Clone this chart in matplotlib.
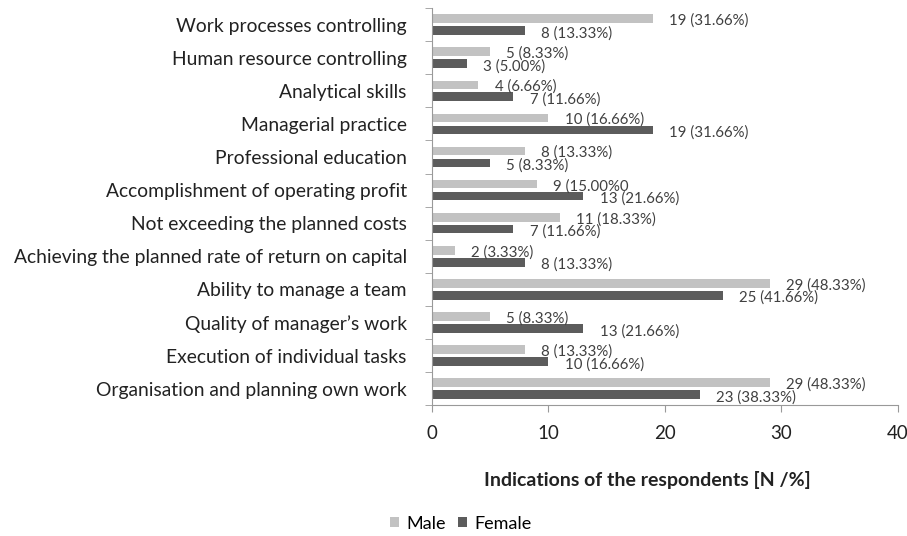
import numpy as np
import matplotlib.pyplot as plt

plt.rcParams['font.family'] = ['Lato', 'DejaVu Sans']

categories = ['Work processes controlling', 'Human resource controlling', 'Analytical skills',
              'Managerial practice', 'Professional education', 'Accomplishment of operating profit',
              'Not exceeding the planned costs', 'Achieving the planned rate of return on capital',
              'Ability to manage a team', "Quality of manager\u2019s work", 'Execution of individual tasks',
              'Organisation and planning own work']
male = [19, 5, 4, 10, 8, 9, 11, 2, 29, 5, 8, 29]
female = [8, 3, 7, 19, 5, 13, 7, 8, 25, 13, 10, 23]
male_lbl = ['19 (31.66%)', '5 (8.33%)', '4 (6.66%)', '10 (16.66%)', '8 (13.33%)', '9 (15.00%0',
            '11 (18.33%)', '2 (3.33%)', '29 (48.33%)', '5 (8.33%)', '8 (13.33%)', '29 (48.33%)']
female_lbl = ['8 (13.33%)', '3 (5.00%)', '7 (11.66%)', '19 (31.66%)', '5 (8.33%)', '13 (21.66%)',
              '7 (11.66%)', '8 (13.33%)', '25 (41.66%)', '13 (21.66%)', '10 (16.66%)', '23 (38.33%)']

male_c = '#c2c2c2'
female_c = '#5c5c5c'

fig = plt.figure(figsize=(9.07, 5.36), dpi=100)
ax = fig.add_axes([0.476, 0.244, 0.514, 0.741])

n = len(categories)
y = np.arange(n)[::-1]
h = 0.26
ax.barh(y + 0.18, male, height=h, color=male_c, label='Male')
ax.barh(y - 0.18, female, height=h, color=female_c, label='Female')

for yi, v, t in zip(y, male, male_lbl):
    ax.text(v + 1.4, yi + 0.12, t, va='center', ha='left', fontsize=10.8, color='#404040')
for yi, v, t in zip(y, female, female_lbl):
    ax.text(v + 1.4, yi - 0.26, t, va='center', ha='left', fontsize=10.8, color='#404040')

ax.set_xlim(0, 40)
ax.set_ylim(-0.5, n - 0.5)
ax.set_xticks([0, 10, 20, 30, 40])
ax.set_yticks(y)
ax.set_yticklabels(categories, fontsize=13.9, color='#222222')
ax.set_yticks(np.arange(n + 1) - 0.5, minor=True)
ax.tick_params(axis='y', which='major', length=0, pad=18)
ax.tick_params(axis='y', which='minor', length=5, color='#999999')
ax.tick_params(axis='x', length=5, color='#999999', labelsize=13.5, labelcolor='#222222', pad=9)

for s in ['top', 'right']:
    ax.spines[s].set_visible(False)
for s in ['left', 'bottom']:
    ax.spines[s].set_color('#999999')

ax.set_xlabel('Indications of the respondents [N /%]', fontsize=14, fontweight='bold',
              color='#222222', labelpad=20)
ax.xaxis.set_label_coords(0.462, -0.165)

fig.legend(loc='lower center', bbox_to_anchor=(0.508, -0.022), ncol=2, frameon=False, fontsize=13,
           handlelength=0.5, handleheight=0.5, handletextpad=0.4, columnspacing=0.7)

fig.savefig('out.png', dpi=100)
